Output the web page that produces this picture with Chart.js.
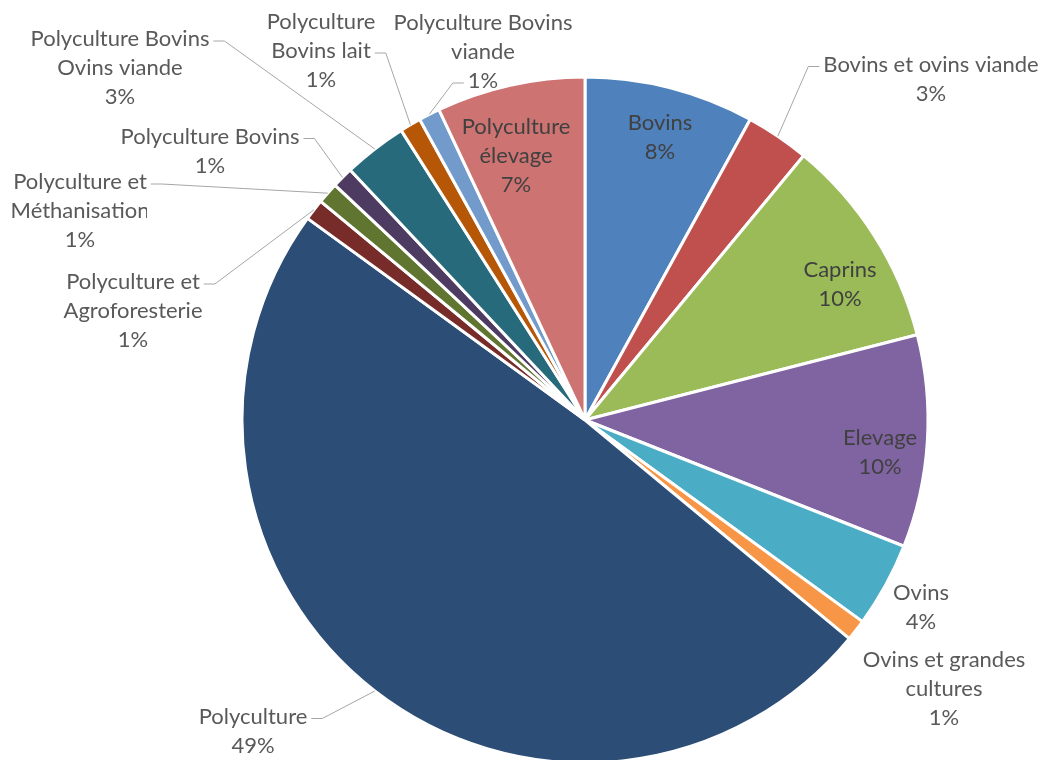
<!DOCTYPE html>
<html lang="fr">
<head>
<meta charset="utf-8">
<title>Répartition des exploitations</title>
<script src="https://cdn.jsdelivr.net/npm/chart.js@4.4.1/dist/chart.umd.min.js"></script>
<style>
  html, body { margin: 0; padding: 0; background: #fff; }
  canvas { display: block; }
</style>
</head>
<body>
<canvas id="repartition" width="1043" height="760"></canvas>
<script>
// Catégories d'exploitation, dans l'ordre du camembert (sens horaire depuis midi)
const categories = [
  'Bovins',
  'Bovins et ovins viande',
  'Caprins',
  'Elevage',
  'Ovins',
  'Ovins et grandes cultures',
  'Polyculture',
  'Polyculture et Agroforesterie',
  'Polyculture et Méthanisation',
  'Polyculture Bovins',
  'Polyculture Bovins Ovins viande',
  'Polyculture Bovins lait',
  'Polyculture Bovins viande',
  'Polyculture élevage'
];

// Part de chaque catégorie (%)
const parts = [8, 3, 10, 10, 4, 1, 49, 1, 1, 1, 3, 1, 1, 7];

const couleurs = [
  '#4F81BD', '#C0504D', '#9BBB59', '#8064A2', '#4BACC6', '#F79646',
  '#2C4D75', '#772C2A', '#5F7530', '#4D3B62', '#276A7C', '#B65708',
  '#729ACA', '#CD7371'
];

// Placement des étiquettes : centre du bloc de texte par rapport au centre du camembert,
// largeur de retour à la ligne, et ligne de rappel (ligne de texte + côté)
const placements = [
  { dx: 75,   dy: -283, wrap: 150, interieur: true },
  { dx: 346,  dy: -341, wrap: 260, rappel: { ligne: 0, cote: 'gauche' } },
  { dx: 255,  dy: -136, wrap: 150, interieur: true },
  { dx: 295,  dy: 32,   wrap: 150, interieur: true },
  { dx: 336,  dy: 187,  wrap: 150 },
  { dx: 359,  dy: 269,  wrap: 170 },
  { dx: -332, dy: 311,  wrap: 150, rappel: { ligne: 0, cote: 'droite' } },
  { dx: -452, dy: -109, wrap: 150, rappel: { ligne: 0, cote: 'droite' } },
  { dx: -505, dy: -209, wrap: 150, rappel: { ligne: 0, cote: 'droite' }, coupe: -438 },
  { dx: -375, dy: -269, wrap: 200, rappel: { ligne: 0, cote: 'droite' } },
  { dx: -465, dy: -352, wrap: 200, rappel: { ligne: 0, cote: 'droite' } },
  { dx: -264, dy: -369, wrap: 120, rappel: { ligne: 1, cote: 'droite' } },
  { dx: -102, dy: -368, wrap: 200, rappel: { ligne: 2, cote: 'gauche' } },
  { dx: -69,  dy: -264, wrap: 120, interieur: true }
];

const POLICE = '22px Lato';
const INTERLIGNE = 29;

function decouper(ctx, texte, largeurMax) {
  const mots = texte.split(' ');
  const lignes = [];
  let courante = '';
  mots.forEach(mot => {
    const essai = courante ? courante + ' ' + mot : mot;
    if (courante && ctx.measureText(essai).width > largeurMax) {
      lignes.push(courante);
      courante = mot;
    } else {
      courante = essai;
    }
  });
  if (courante) lignes.push(courante);
  return lignes;
}

// Étiquettes "catégorie / pourcentage" avec lignes de rappel
const etiquettesPlugin = {
  id: 'etiquettes',
  afterDatasetsDraw(chart) {
    const ctx = chart.ctx;
    const meta = chart.getDatasetMeta(0);
    const total = parts.reduce((a, b) => a + b, 0);

    ctx.save();
    ctx.font = POLICE;
    ctx.textAlign = 'center';
    ctx.textBaseline = 'middle';

    meta.data.forEach((arc, i) => {
      const p = placements[i];
      const lignes = decouper(ctx, categories[i], p.wrap);
      lignes.push(Math.round(parts[i] / total * 100) + '%');

      const lx = arc.x + p.dx;
      const y0 = arc.y + p.dy - (lignes.length - 1) * INTERLIGNE / 2;

      if (p.rappel) {
        const mid = (arc.startAngle + arc.endAngle) / 2;
        const ex = arc.x + Math.cos(mid) * arc.outerRadius;
        const ey = arc.y + Math.sin(mid) * arc.outerRadius;
        const ly = y0 + p.rappel.ligne * INTERLIGNE + 2;
        const w = ctx.measureText(lignes[p.rappel.ligne]).width;
        let sx, tx;
        if (p.rappel.cote === 'droite') {
          sx = lx + w / 2 + 4;
          if (p.coupe !== undefined) sx = Math.min(sx, arc.x + p.coupe + 6);
          tx = sx + 11;
        } else {
          sx = lx - w / 2 - 4;
          tx = sx - 11;
        }
        ctx.beginPath();
        ctx.moveTo(sx, ly);
        ctx.lineTo(tx, ly);
        ctx.lineTo(ex, ey);
        ctx.strokeStyle = '#A6A6A6';
        ctx.lineWidth = 1;
        ctx.stroke();
      }

      ctx.save();
      if (p.coupe !== undefined) {
        ctx.beginPath();
        ctx.rect(0, 0, arc.x + p.coupe, chart.height);
        ctx.clip();
      }
      ctx.fillStyle = p.interieur ? '#404040' : '#595959';
      lignes.forEach((ligne, k) => {
        ctx.fillText(ligne, lx, y0 + k * INTERLIGNE);
      });
      ctx.restore();
    });

    ctx.restore();
  }
};

new Chart(document.getElementById('repartition'), {
  type: 'pie',
  data: {
    labels: categories,
    datasets: [{
      data: parts,
      backgroundColor: couleurs,
      borderColor: '#FFFFFF',
      borderWidth: 3,
      radius: 343,
      clip: false
    }]
  },
  options: {
    responsive: false,
    animation: false,
    layout: {
      padding: { top: 80, bottom: 0, left: 245, right: 118 }
    },
    plugins: {
      legend: { display: false },
      tooltip: { enabled: false }
    }
  },
  plugins: [etiquettesPlugin]
});
</script>
</body>
</html>
